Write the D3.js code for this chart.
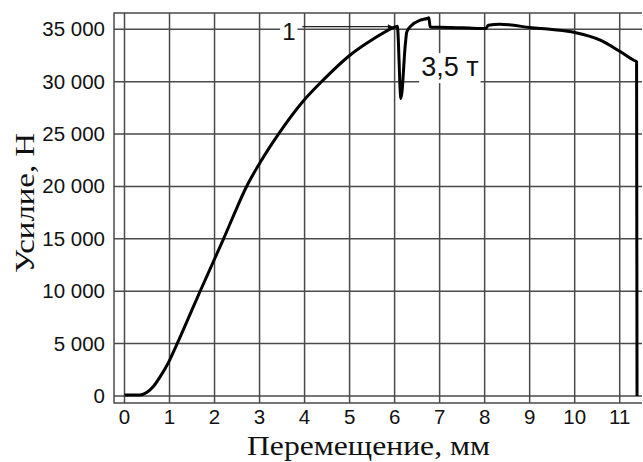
<!DOCTYPE html>
<html>
<head>
<meta charset="utf-8">
<script src="https://cdn.jsdelivr.net/npm/d3@7"></script>
<style>
  body { margin: 0; background: #fff; }
  svg { display: block; }
</style>
</head>
<body>
<script>
// displacement (mm) and force (N)
var disp = [0, 0.35, 0.5, 0.64, 0.8, 0.9, 1.0, 1.16, 1.4, 1.68, 1.95, 2.2, 2.45, 2.7, 3.0, 3.42, 4.0, 4.4, 5.0, 5.5, 6.0, 6.06,
            6.14, 6.24, 6.27, 6.38, 6.57, 6.72, 6.76, 6.79, 7.0, 7.5, 7.9, 8.03, 8.08, 8.34, 8.6, 9.0, 9.5, 10.0, 10.57, 11.0, 11.31, 11.375, 11.385];
var force = [100, 100, 350, 900, 1900, 2600, 3400, 4900, 7250, 10000, 12600, 15000, 17500, 19900, 22200, 25000, 28300, 30100, 32500, 34000, 35200, 35300,
             28400, 33650, 34750, 35390, 35870, 36030, 36100, 35230, 35200, 35150, 35080, 35080, 35390, 35490, 35400, 35170, 34980, 34700, 33960, 32900, 32050, 31900, 0];

var xTicks = [0, 1, 2, 3, 4, 5, 6, 7, 8, 9, 10, 11];
var yTicks = [0, 5000, 10000, 15000, 20000, 25000, 30000, 35000];

var xTitle = "Перемещение, мм";
var yTitle = "Усилие, Н";

// annotations: label, x (mm), y (N)
var annoText = ["1", "3,5 т"];
var annoX = [3.65, 6.59];
var annoY = [33960, 30530];
// leader arrow for "1"
var arrowX = [3.95, 5.95];
var arrowY = [35250, 35250];

var width = 643, height = 462;

var x = d3.scaleLinear().domain([0, 11]).range([124.5, 619.7]);
var y = d3.scaleLinear().domain([0, 35000]).range([396, 29.3]);

var frame = { left: 114, top: 13, right: 642, bottom: 403 };

var svg = d3.select("body").append("svg")
    .attr("width", width)
    .attr("height", height);

var defs = svg.append("defs");
defs.append("marker")
    .attr("id", "arr")
    .attr("viewBox", "0 0 10 10")
    .attr("refX", 9).attr("refY", 5)
    .attr("markerWidth", 8).attr("markerHeight", 5)
    .attr("markerUnits", "userSpaceOnUse")
    .attr("orient", "auto")
    .append("path")
    .attr("d", "M0,0 L10,5 L0,10 z")
    .attr("fill", "#111");

var grid = svg.append("g")
    .attr("stroke", "#4a4a4a")
    .attr("stroke-width", 1.5);

grid.selectAll(".vx")
    .data(xTicks)
    .enter()
    .append("line")
    .attr("x1", function (d) { return x(d); })
    .attr("x2", function (d) { return x(d); })
    .attr("y1", frame.top)
    .attr("y2", frame.bottom);

grid.selectAll(".hy")
    .data(yTicks)
    .enter()
    .append("line")
    .attr("x1", frame.left)
    .attr("x2", frame.right)
    .attr("y1", function (d) { return y(d); })
    .attr("y2", function (d) { return y(d); });

// frame
grid.append("path")
    .attr("fill", "none")
    .attr("d", "M" + frame.right + "," + frame.top + " H" + frame.left + " V" + frame.bottom + " H" + frame.right);

// tick labels
var fmt = function (v) { return d3.format(",")(v).replace(/,/g, " "); };

svg.append("g").selectAll("text")
    .data(yTicks)
    .enter()
    .append("text")
    .attr("x", 105)
    .attr("y", function (d) { return y(d) + 7; })
    .attr("text-anchor", "end")
    .attr("font-family", "Liberation Sans, Arial, sans-serif")
    .attr("font-size", 20.5)
    .attr("fill", "#111")
    .text(fmt);

svg.append("g").selectAll("text")
    .data(xTicks)
    .enter()
    .append("text")
    .attr("x", function (d) { return x(d); })
    .attr("y", 424)
    .attr("text-anchor", "middle")
    .attr("font-family", "Liberation Sans, Arial, sans-serif")
    .attr("font-size", 20.5)
    .attr("fill", "#111")
    .text(function (d) { return d; });

// axis titles
svg.append("text")
    .attr("x", 368.5)
    .attr("y", 455)
    .attr("text-anchor", "middle")
    .attr("font-family", "Liberation Serif, Times New Roman, serif")
    .attr("font-size", 28)
    .attr("textLength", 243)
    .attr("lengthAdjust", "spacingAndGlyphs")
    .attr("fill", "#111")
    .text(xTitle);

svg.append("text")
    .attr("transform", "translate(34,203) rotate(-90)")
    .attr("text-anchor", "middle")
    .attr("font-family", "Liberation Serif, Times New Roman, serif")
    .attr("font-size", 28)
    .attr("textLength", 140)
    .attr("lengthAdjust", "spacingAndGlyphs")
    .attr("fill", "#111")
    .text(yTitle);

// annotation labels on white boxes that hide the grid behind them
var labels = svg.append("g").selectAll("g")
    .data(annoText)
    .enter()
    .append("g");

labels.append("text")
    .attr("x", function (d, i) { return x(annoX[i]); })
    .attr("y", function (d, i) { return y(annoY[i]); })
    .attr("text-anchor", function (d, i) { return i === 0 ? "middle" : "start"; })
    .attr("font-family", "Liberation Sans, Arial, sans-serif")
    .attr("font-size", function (d, i) { return i === 0 ? 24 : 27; })
    .attr("fill", "#111")
    .text(function (d) { return d; });

labels.each(function () {
    var g = d3.select(this);
    var bb = g.select("text").node().getBBox();
    g.insert("rect", "text")
        .attr("x", bb.x - 2)
        .attr("y", bb.y + 1)
        .attr("width", bb.width + 4)
        .attr("height", bb.height)
        .attr("fill", "#fff");
});

// leader arrow
svg.append("line")
    .attr("x1", x(arrowX[0]))
    .attr("x2", x(arrowX[1]))
    .attr("y1", y(arrowY[0]))
    .attr("y2", y(arrowY[1]))
    .attr("stroke", "#222")
    .attr("stroke-width", 1.3)
    .attr("marker-end", "url(#arr)");

// curve
var line = d3.line()
    .x(function (d) { return x(d[0]); })
    .y(function (d) { return y(d[1]); })
    .curve(d3.curveMonotoneX);

svg.append("path")
    .datum(d3.zip(disp, force))
    .attr("fill", "none")
    .attr("stroke", "#000")
    .attr("stroke-width", 3)
    .attr("stroke-linejoin", "round")
    .attr("d", line);
</script>
</body>
</html>
